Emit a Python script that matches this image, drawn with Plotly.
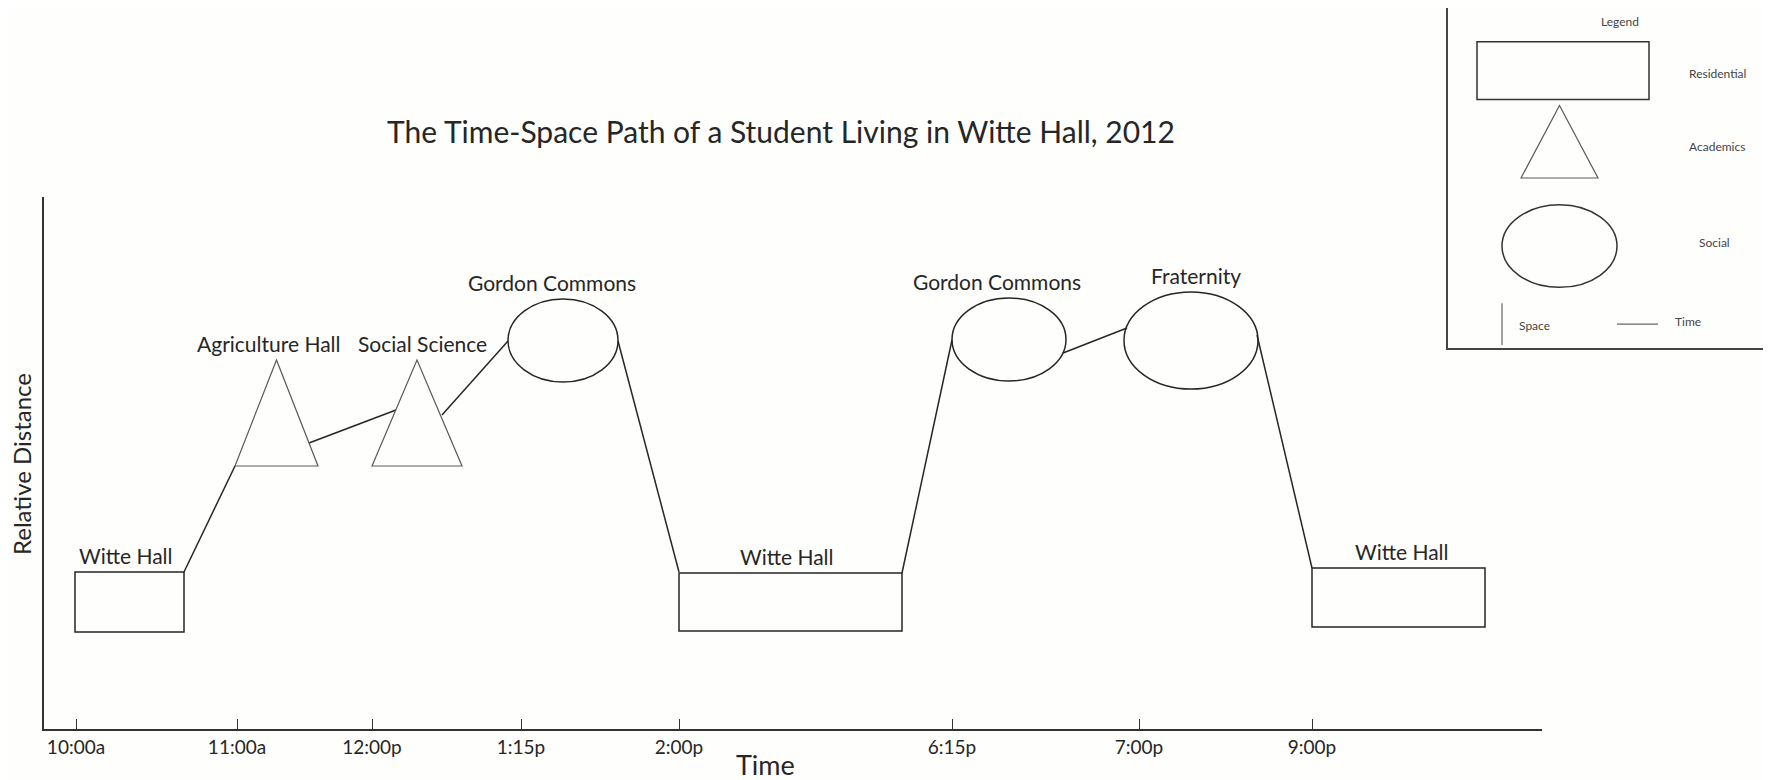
import plotly.graph_objects as go

# ---------------- data ----------------
tick_labels = ["10:00a", "11:00a", "12:00p", "1:15p", "2:00p", "6:15p", "7:00p", "9:00p"]
tick_pos = [32, 193, 328, 477, 635, 908, 1095, 1268]

stop_names = ["Witte Hall", "Agriculture Hall", "Social Science", "Gordon Commons",
              "Witte Hall", "Gordon Commons", "Fraternity", "Witte Hall"]
stop_kinds = ["Residential", "Academics", "Academics", "Social",
              "Residential", "Social", "Social", "Residential"]
stop_start = [31, 191, 328, 464, 635, 908, 1080, 1268]
stop_end = [140, 274, 418, 574, 858, 1022, 1214, 1441]
stop_low = [97, 263, 263, 347, 98, 348, 340, 102]
stop_high = [157, 369, 369, 430, 156, 431, 437, 161]
label_shift = [-4, -8, 5, -11, -4, -12, 5, 3]

# path segments connecting consecutive stops
path_x0 = [140, 265, 398, 574, 858, 1019, 1213]
path_y0 = [157, 286, 314, 388, 156, 376, 394]
path_x1 = [191, 352, 464, 635, 908, 1083, 1268]
path_y1 = [263, 319, 388, 157, 389, 401, 161]

legend_kinds = ["Residential", "Academics", "Social"]

# ---------------- figure ----------------
VW, VH = 1771, 780          # browser window
OX, OY = 8, 8               # default page margin around the plot div
W, H = VW - OX, VH - OY     # figure size so it fits the window
INK = "#262626"
FONT = "Lato"


def fx(px):  # screen x pixel -> paper fraction
    return (px - OX) / W


def fy(py):  # screen y pixel -> paper fraction (from bottom)
    return (VH - py) / H


fig = go.Figure()

# connecting path (time-space path)
px, py = [], []
for a, b, c, d in zip(path_x0, path_y0, path_x1, path_y1):
    px += [a, c, None]
    py += [b, d, None]
fig.add_trace(go.Scatter(x=px, y=py, mode="lines", line=dict(color=INK, width=1.5),
                         hoverinfo="skip", showlegend=False, xaxis="x", yaxis="y"))

shapes = []
annotations = []


def shape_for(kind, x0, x1, y0, y1, xref, yref, color=INK, width=1.5):
    if kind == "Residential":
        return dict(type="rect", xref=xref, yref=yref, x0=x0, x1=x1, y0=y0, y1=y1,
                    line=dict(color=color, width=width))
    if kind == "Social":
        return dict(type="circle", xref=xref, yref=yref, x0=x0, x1=x1, y0=y0, y1=y1,
                    line=dict(color=color, width=width))
    xm = (x0 + x1) / 2
    return dict(type="path", xref=xref, yref=yref,
                path=f"M {x0},{y0} L {xm},{y1} L {x1},{y0} Z",
                line=dict(color="#5a5a5a", width=1.2))


for name, kind, x0, x1, y0, y1, dx in zip(stop_names, stop_kinds, stop_start, stop_end,
                                          stop_low, stop_high, label_shift):
    shapes.append(shape_for(kind, x0, x1, y0, y1, "x", "y"))
    annotations.append(dict(x=(x0 + x1) / 2 + dx, y=y1, xref="x", yref="y", text=name,
                            showarrow=False, yanchor="bottom", yshift=2,
                            font=dict(family=FONT, size=21, color=INK)))

# ---------------- legend box (own axes) ----------------
leg_boxes = {"Residential": (29, 201, 250, 308),
             "Academics": (73, 150, 171, 244),
             "Social": (54, 169, 61, 144)}
leg_text_pos = {"Residential": (269, 276), "Academics": (269, 203), "Social": (266, 106)}
for k in legend_kinds:
    x0, x1, y0, y1 = leg_boxes[k]
    shapes.append(shape_for(k, x0, x1, y0, y1, "x2", "y2", color="#333333", width=1.5))
    tx, ty = leg_text_pos[k]
    annotations.append(dict(x=tx, y=ty, xref="x2", yref="y2", text=k, showarrow=False,
                            font=dict(family=FONT, size=12, color="#444444")))

shapes.append(dict(type="line", xref="x2", yref="y2", x0=54, x1=54, y0=3, y1=45,
                   line=dict(color="#666666", width=1.2)))
shapes.append(dict(type="line", xref="x2", yref="y2", x0=169, x1=210, y0=24, y1=24,
                   line=dict(color="#666666", width=1.2)))
annotations.append(dict(x=172, y=328, xref="x2", yref="y2", text="Legend", showarrow=False,
                        font=dict(family=FONT, size=12, color="#444444")))
annotations.append(dict(x=69, y=23, xref="x2", yref="y2", text="Space", showarrow=False,
                        xanchor="left", font=dict(family=FONT, size=12, color="#444444")))
annotations.append(dict(x=225, y=27, xref="x2", yref="y2", text="Time", showarrow=False,
                        xanchor="left", font=dict(family=FONT, size=12, color="#444444")))

# axis titles
annotations.append(dict(x=fx(765), y=fy(764), xref="paper", yref="paper", text="Time",
                        xanchor="center", yanchor="middle",
                        showarrow=False, font=dict(family=FONT, size=27, color=INK)))
annotations.append(dict(x=fx(21), y=fy(464), xref="paper", yref="paper",
                        text="Relative Distance", textangle=-90, showarrow=False,
                        xanchor="center", yanchor="middle",
                        font=dict(family=FONT, size=24, color=INK)))

fig.update_layout(
    width=W, height=H,
    margin=dict(l=0, r=0, t=0, b=0, autoexpand=False),
    paper_bgcolor="#fefefc", plot_bgcolor="rgba(0,0,0,0)",
    showlegend=False,
    title=dict(text="The Time-Space Path of a Student Living in Witte Hall, 2012",
               x=fx(781), xanchor="center", y=fy(132), yanchor="middle",
               font=dict(family=FONT, size=30, color=INK)),
    xaxis=dict(domain=[fx(44), fx(1542)], range=[0, 1498], showgrid=False, zeroline=False,
               showline=True, linecolor="#333333", linewidth=1.5,
               tickmode="array", tickvals=tick_pos, ticktext=tick_labels,
               ticks="inside", ticklen=10, tickwidth=1.2, tickcolor="#333333",
               tickfont=dict(family=FONT, size=19, color=INK), fixedrange=True),
    yaxis=dict(domain=[fy(729), fy(197)], range=[0, 532], showgrid=False, zeroline=False,
               showline=True, linecolor="#333333", linewidth=1.5,
               showticklabels=False, ticks="", fixedrange=True),
    xaxis2=dict(domain=[fx(1448), fx(1765)], range=[0, 317], showgrid=False, zeroline=False,
                showline=True, mirror=True, linecolor="#444444", linewidth=1.8,
                showticklabels=False, ticks="", anchor="y2", fixedrange=True),
    yaxis2=dict(domain=[fy(348), 1.0], range=[0, 342], showgrid=False, zeroline=False,
                showline=True, mirror=True, linecolor="#444444", linewidth=1.8,
                showticklabels=False, ticks="", anchor="x2", fixedrange=True),
    shapes=shapes,
    annotations=annotations,
)

fig.write_html("out.html")
